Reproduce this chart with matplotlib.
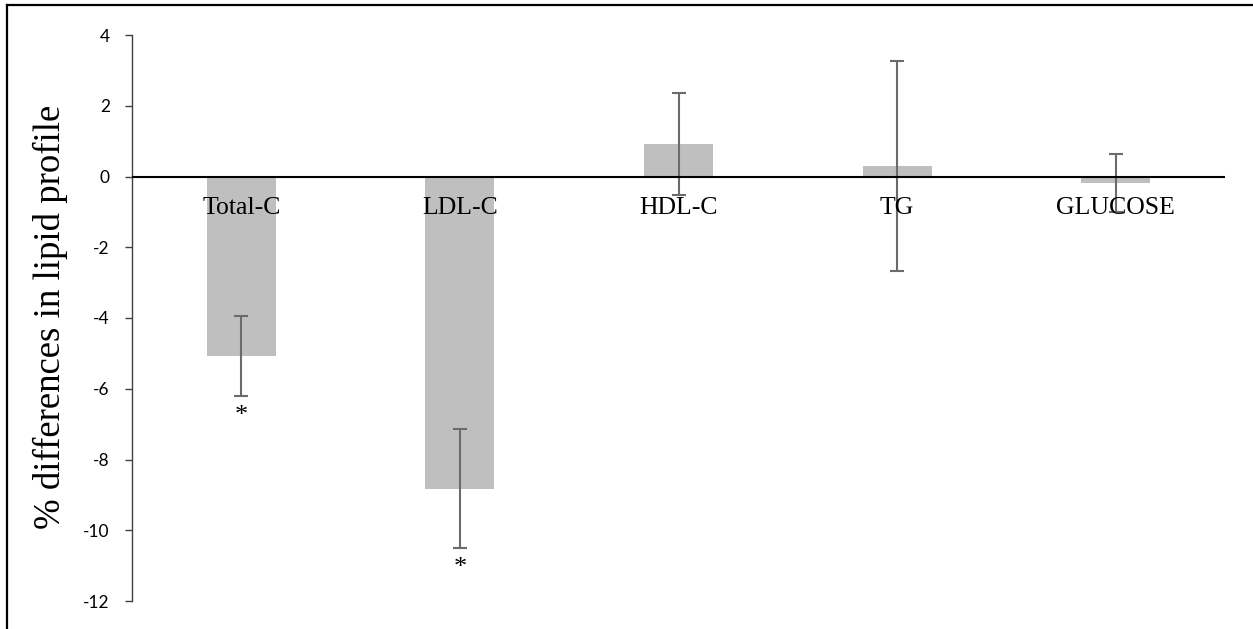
import matplotlib
matplotlib.use("Agg")
import matplotlib.pyplot as plt
from matplotlib.lines import Line2D

categories = ["Total-C", "LDL-C", "HDL-C", "TG", "GLUCOSE"]
values = [-5.08, -8.82, 0.92, 0.30, -0.19]
errors = [1.13, 1.69, 1.44, 2.97, 0.82]
significant = [True, True, False, False, False]
y_ticks = [-12, -10, -8, -6, -4, -2, 0, 2, 4]

W, H, DPI = 1253, 629, 100
fig = plt.figure(figsize=(W / DPI, H / DPI), dpi=DPI)
fig.patch.set_facecolor("white")

ax_left, ax_right = 132 / W, 1225 / W
ax_top, ax_bottom = 1 - 35 / H, 1 - 601 / H
ax = fig.add_axes([ax_left, ax_bottom, ax_right - ax_left, ax_top - ax_bottom])

x = list(range(len(categories)))
ax.bar(x, values, width=0.316, color="#BFBFBF", zorder=2)
ax.errorbar(x, values, yerr=errors, fmt="none", ecolor="#6b6b6b",
            elinewidth=1.5, capsize=5, capthick=1.5, zorder=3)
ax.axhline(0, color="black", lw=1.5, zorder=4)

ax.set_xlim(-0.5, len(categories) - 0.5)
ax.set_ylim(-12, 4)
ax.set_yticks(y_ticks)
ax.set_yticklabels([str(t) for t in y_ticks], fontfamily="Lato", fontsize=12.5)
ax.tick_params(axis="y", direction="out", length=5, width=1, color="#404040", pad=11)
ax.set_xticks([])
for s in ["top", "right", "bottom"]:
    ax.spines[s].set_visible(False)
ax.spines["left"].set_color("#404040")
ax.spines["left"].set_linewidth(1)

for i, c in enumerate(categories):
    ax.annotate(c, xy=(i, 0), xytext=(0, -15), textcoords="offset points",
                ha="center", va="top", fontfamily="Liberation Serif", fontsize=18.5,
                zorder=5)

for i, sig in enumerate(significant):
    if sig:
        ax.annotate("*", xy=(i, values[i] - errors[i]), xytext=(0, -6),
                    textcoords="offset points", ha="center", va="top",
                    fontfamily="Liberation Serif", fontsize=19)

fig.text(50 / W, 1 - 317 / H, "% differences in lipid profile", rotation=90,
         ha="center", va="center", fontfamily="Liberation Serif", fontsize=26.5)

fig.add_artist(Line2D([7 / W, 7 / W], [0, 1 - 5 / H], transform=fig.transFigure,
                      color="black", lw=1.6))
fig.add_artist(Line2D([7 / W, 1], [1 - 5 / H, 1 - 5 / H], transform=fig.transFigure,
                      color="black", lw=1.6))

fig.savefig("out.png", dpi=DPI)
